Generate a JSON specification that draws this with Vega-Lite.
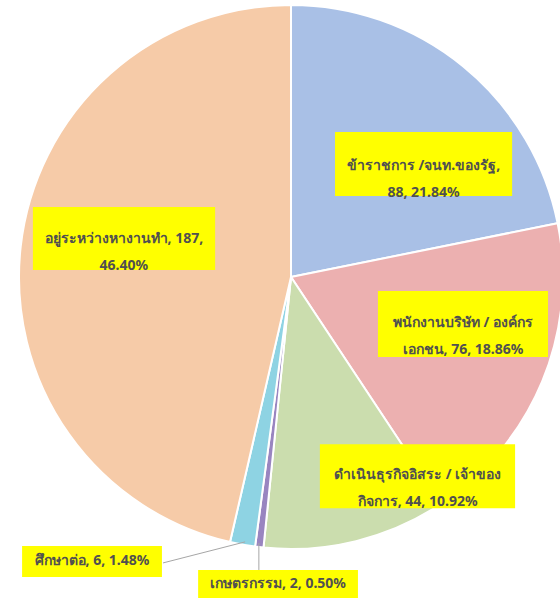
{
  "$schema": "https://vega.github.io/schema/vega-lite/v6.json",
  "width": 582,
  "height": 554,
  "padding": 0,
  "background": "white",
  "config": {"view": {"stroke": null}},
  "datasets": {
    "slices": [
      {"group": "ข้าราชการ /จนท.ของรัฐ", "value": 88, "ord": 1},
      {"group": "พนักงานบริษัท / องค์กรเอกชน", "value": 76, "ord": 2},
      {"group": "ดำเนินธุรกิจอิสระ / เจ้าของกิจการ", "value": 44, "ord": 3},
      {"group": "เกษตรกรรม", "value": 2, "ord": 4},
      {"group": "ศึกษาต่อ", "value": 6, "ord": 5},
      {"group": "อยู่ระหว่างหางานทำ", "value": 187, "ord": 6}
    ],
    "labels": [
      {"text": "ข้าราชการ /จนท.ของรัฐ,\n88, 21.84%", "cx": 0.491, "cy": 0.411, "bx1": 0.163, "bx2": 0.819, "by1": 0.537, "by2": 0.3},
      {"text": "พนักงานบริษัท / องค์กร\nเอกชน, 76, 18.86%", "cx": 0.637, "cy": -0.172, "bx1": 0.322, "bx2": 0.952, "by1": -0.052, "by2": -0.296},
      {"text": "ดำเนินธุรกิจอิสระ / เจ้าของ\nกิจการ, 44, 10.92%", "cx": 0.469, "cy": -0.733, "bx1": 0.107, "bx2": 0.83, "by1": -0.619, "by2": -0.856},
      {"text": "อยู่ระหว่างหางานทำ, 187,\n46.40%", "cx": -0.619, "cy": 0.139, "bx1": -0.956, "bx2": -0.281, "by1": 0.259, "by2": 0.026},
      {"text": "ศึกษาต่อ, 6, 1.48%", "cx": -0.737, "cy": -1.052, "bx1": -0.996, "bx2": -0.478, "by1": -0.996, "by2": -1.111},
      {"text": "เกษตรกรรม, 2, 0.50%", "cx": -0.048, "cy": -1.137, "bx1": -0.344, "bx2": 0.248, "by1": -1.085, "by2": -1.189}
    ],
    "leaders": [
      {"x1": -0.474, "y1": -1.059, "x2": -0.17, "y2": -0.981},
      {"x1": -0.119, "y1": -0.985, "x2": -0.119, "y2": -1.085}
    ]
  },
  "layer": [
    {
      "data": {"name": "slices"},
      "mark": {"type": "arc", "outerRadius": 272, "stroke": "white", "strokeWidth": 2},
      "encoding": {
        "theta": {"field": "value", "type": "quantitative", "stack": true},
        "order": {"field": "ord", "type": "quantitative"},
        "color": {
          "field": "group", "type": "nominal", "legend": null,
          "scale": {
            "domain": ["ข้าราชการ /จนท.ของรัฐ", "พนักงานบริษัท / องค์กรเอกชน", "ดำเนินธุรกิจอิสระ / เจ้าของกิจการ", "เกษตรกรรม", "ศึกษาต่อ", "อยู่ระหว่างหางานทำ"],
            "range": ["#A9C0E6", "#ECB0B0", "#CBDDAE", "#9985C0", "#8ED3E3", "#F6CBA8"]
          }
        }
      }
    },
    {
      "data": {"name": "leaders"},
      "mark": {"type": "rule", "color": "#A6A6A6", "strokeWidth": 1},
      "encoding": {
        "x": {"field": "x1", "type": "quantitative", "scale": {"domain": [-1.0778, 1.0778], "nice": false, "zero": false}, "axis": null},
        "y": {"field": "y1", "type": "quantitative", "scale": {"domain": [-1.0259, 1.0259], "nice": false, "zero": false}, "axis": null},
        "x2": {"field": "x2"},
        "y2": {"field": "y2"}
      }
    },
    {
      "data": {"name": "labels"},
      "mark": {"type": "rect", "color": "#FFFF00"},
      "encoding": {
        "x": {"field": "bx1", "type": "quantitative", "scale": {"domain": [-1.0778, 1.0778], "nice": false, "zero": false}, "axis": null},
        "y": {"field": "by1", "type": "quantitative", "scale": {"domain": [-1.0259, 1.0259], "nice": false, "zero": false}, "axis": null},
        "x2": {"field": "bx2"},
        "y2": {"field": "by2"}
      }
    },
    {
      "data": {"name": "labels"},
      "mark": {"type": "text", "lineBreak": "\n", "lineHeight": 27, "fontSize": 14, "fontWeight": "bold", "font": "Noto Sans", "color": "#505050", "align": "center", "baseline": "middle"},
      "encoding": {
        "x": {"field": "cx", "type": "quantitative", "scale": {"domain": [-1.0778, 1.0778], "nice": false, "zero": false}, "axis": null},
        "y": {"field": "cy", "type": "quantitative", "scale": {"domain": [-1.0259, 1.0259], "nice": false, "zero": false}, "axis": null},
        "text": {"field": "text"}
      }
    }
  ]
}
